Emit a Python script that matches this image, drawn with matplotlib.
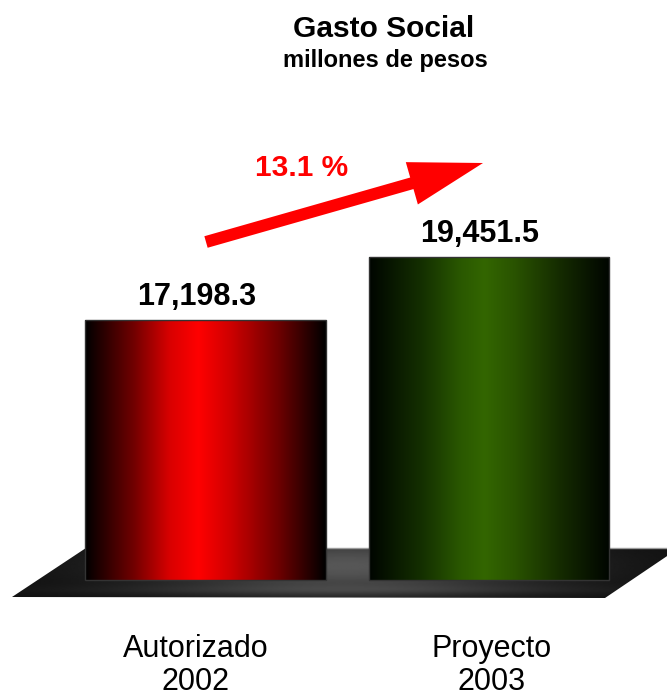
import numpy as np
import matplotlib
matplotlib.use("Agg")
import matplotlib.pyplot as plt
from matplotlib.colors import LinearSegmentedColormap
from matplotlib.patches import Polygon, FancyArrow

plt.rcParams['font.family'] = ['Liberation Sans', 'DejaVu Sans']

# data
categories = ["Autorizado", "Proyecto"]
years = ["2002", "2003"]
values = [17198.3, 19451.5]
value_labels = ["17,198.3", "19,451.5"]
growth_label = "13.1 %"
title = "Gasto Social"
subtitle = "millones de pesos"

W, H = 667, 699
fig = plt.figure(figsize=(W / 100, H / 100), dpi=100)

# pixel axes for the floor and decorations
px = fig.add_axes([0, 0, 1, 1], zorder=0)
px.set_xlim(0, W)
px.set_ylim(H, 0)
px.axis("off")

# bar axes (value scale)
ax = fig.add_axes([0, 0, 1, 1], zorder=1)
ax.patch.set_alpha(0)
ax.set_xlim(-0.725, 1.628)
ax.set_ylim(3644, 28644)
ax.axis("off")
base = 7900

# floor platform with a soft highlight
floor = Polygon([(12, 597), (86, 548), (679, 548), (605, 598)], closed=True,
                facecolor="none", edgecolor="none")
px.add_patch(floor)
gx, gy = np.meshgrid(np.linspace(0, W, 400), np.linspace(540, 605, 80))
shade = 0.06 + 0.28 * np.exp(-(((gx - 345) / 200) ** 2 + ((gy - 566) / 30) ** 2))
shade += 0.08 * np.exp(-(((gx - 345) / 260) ** 2 + ((gy - 590) / 5) ** 2))
img = px.imshow(shade, cmap="gray", vmin=0, vmax=1, extent=(0, W, 605, 540),
                aspect="auto", zorder=1)
img.set_clip_path(floor)
px.plot([86, 679], [548, 548], color="#9a9a9a", lw=1, zorder=2)

# bars with horizontal cylinder-like gradient
cmaps = [
    LinearSegmentedColormap.from_list("r", [(0, "#000000"), (0.2, "#700000"), (0.35, "#d80000"),
                                            (0.47, "#ff0000"), (0.6, "#d00000"), (0.8, "#700000"),
                                            (1, "#000000")]),
    LinearSegmentedColormap.from_list("g", [(0, "#000500"), (0.22, "#143000"), (0.38, "#2a5800"),
                                            (0.48, "#336600"), (0.6, "#2a5400"), (0.8, "#142a00"),
                                            (1, "#000500")]),
]
bars = ax.bar(range(len(values)), np.array(values) - base, bottom=base, width=0.85,
              facecolor="none", edgecolor="#333333", linewidth=1, zorder=3)
grad = np.linspace(0, 1, 256).reshape(1, -1)
for bar, cm in zip(bars, cmaps):
    x0, y0 = bar.get_x(), bar.get_y()
    im = ax.imshow(grad, cmap=cm, extent=(x0, x0 + bar.get_width(), y0, y0 + bar.get_height()),
                   aspect="auto", zorder=2)
    im.set_clip_path(bar)

# value labels
for i, (v, lab) in enumerate(zip(values, value_labels)):
    ax.annotate(lab, xy=(i, v), xytext=(-9, 15), textcoords="offset pixels",
                ha="center", va="baseline", fontsize=22, fontweight="bold", color="black")

# growth arrow
px.add_patch(FancyArrow(206, 242, 277, -79, width=12, head_width=44, head_length=74,
                        length_includes_head=True, color="#ff0000", lw=0, zorder=3))
px.text(301.5, 176, growth_label, ha="center", va="baseline", fontsize=21.5,
        fontweight="bold", color="#ff0000")

# titles
px.text(383.5, 37, title, ha="center", va="baseline", fontsize=21.5, fontweight="bold")
px.text(385, 67, subtitle, ha="center", va="baseline", fontsize=17, fontweight="bold")

# category labels
label_shift = [-10, 3]
for i, (c, y) in enumerate(zip(categories, years)):
    ax.annotate(c, xy=(i, base), xytext=(label_shift[i], -(657 - 580)), textcoords="offset pixels",
                ha="center", va="baseline", fontsize=22)
    ax.annotate(y, xy=(i, base), xytext=(label_shift[i], -(690 - 580)), textcoords="offset pixels",
                ha="center", va="baseline", fontsize=22)

fig.savefig("out.png", dpi=100)
